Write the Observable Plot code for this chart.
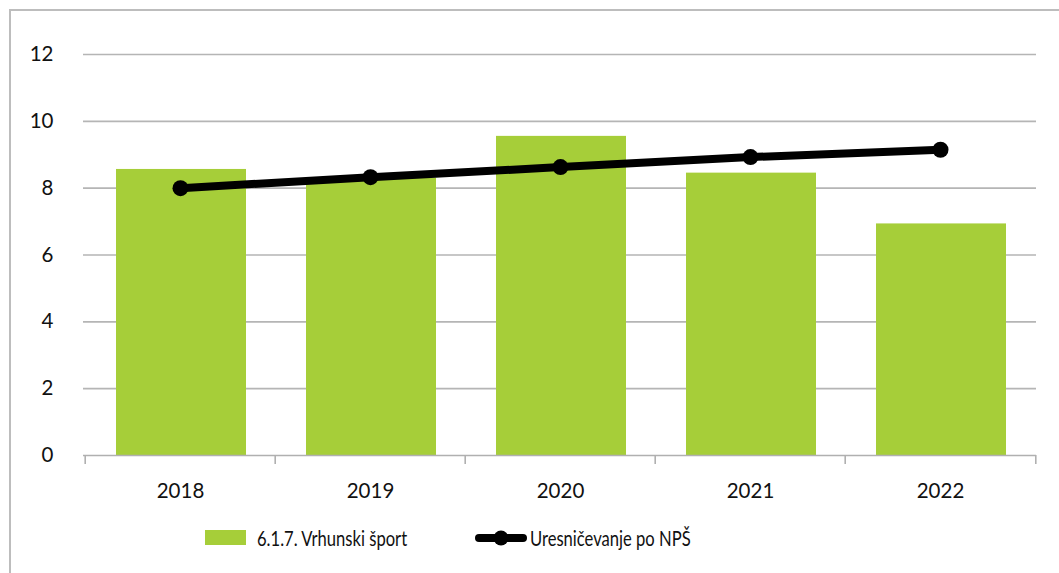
<!DOCTYPE html>
<html>
<head>
<meta charset="utf-8">
<script src="https://cdn.jsdelivr.net/npm/d3@7"></script>
<script src="https://cdn.jsdelivr.net/npm/@observablehq/plot@0.6"></script>
<style>
  html, body { margin: 0; padding: 0; background: #fff; }
  #wrap { position: relative; width: 1059px; height: 573px; overflow: hidden; font-family: Lato, "Open Sans", sans-serif; }
  #frame { position: absolute; left: 9px; top: 9px; width: 1100px; height: 600px; border-left: 2px solid #bdbdbd; border-top: 2px solid #bdbdbd; }
  #chart { position: absolute; left: 0; top: 0; }
  .leg { position: absolute; font-size: 21px; color: #111; line-height: 24px; white-space: nowrap; }
  .txt { transform: scaleX(0.79); transform-origin: 0 50%; }
</style>
</head>
<body>
<div id="wrap">
  <div id="frame"></div>
  <div id="chart"></div>
  <div class="leg" style="left:205px; top:530px; width:41px; height:15px; background:#a6ce39;"></div>
  <div class="leg txt" style="left:257px; top:526px;">6.1.7. Vrhunski šport</div>
  <svg class="leg" style="left:474px; top:526px;" width="54" height="24">
    <line x1="5" y1="12" x2="49" y2="12" stroke="#000" stroke-width="8" stroke-linecap="round"></line>
    <circle cx="27" cy="12" r="7.5" fill="#000"></circle>
  </svg>
  <div class="leg txt" style="left:530px; top:526px;">Uresničevanje po NPŠ</div>
</div>
<script>
const years = ["2018", "2019", "2020", "2021", "2022"];
const sportValues = [8.56, 8.3, 9.55, 8.45, 6.93];
const npsValues = [8.0, 8.33, 8.63, 8.93, 9.15];
const yTicks = [0, 2, 4, 6, 8, 10, 12];

const barData = years.map((y, i) => ({year: y, value: sportValues[i]}));
const lineData = years.map((y, i) => ({year: y, value: npsValues[i]}));

const W = 1059, H = 505;
const mL = 83, mR = 23, mT = 54, mB = 50;
const step = (W - mL - mR) / years.length;
const font = "20.5px";

const chart = Plot.plot({
  width: W,
  height: H,
  marginLeft: mL,
  marginRight: mR,
  marginTop: mT,
  marginBottom: mB,
  style: {fontFamily: "Lato, Open Sans, sans-serif", fontSize: font, color: "#111", background: "transparent", overflow: "visible"},
  x: {domain: years, type: "band", padding: 0, label: null},
  y: {domain: [0, 12], label: null},
  marks: [
    Plot.gridY(yTicks.filter(d => d > 0), {stroke: "#b5b5b5", strokeOpacity: 1, strokeWidth: 1.6}),
    Plot.axisY(yTicks, {tickSize: 0, tickPadding: 30, fontSize: font, fill: "#111", label: null}),
    Plot.axisX(years, {tickSize: 0, tickPadding: 28, fontSize: font, fill: "#111", label: null}),
    Plot.barY(barData, {x: "year", y: "value", fill: "#a6ce39", insetLeft: 31, insetRight: 29}),
    Plot.ruleY([0], {stroke: "#b0b0b0", strokeWidth: 1.6}),
    Plot.ruleX(years, {x: d => d, y1: 0, y2: 0, insetBottom: -9, dx: -step / 2, stroke: "#b0b0b0", strokeWidth: 1.6}),
    Plot.ruleX(years.slice(-1), {x: d => d, y1: 0, y2: 0, insetBottom: -9, dx: step / 2, stroke: "#b0b0b0", strokeWidth: 1.6}),
    Plot.line(lineData, {x: "year", y: "value", stroke: "#000", strokeWidth: 8}),
    Plot.dot(lineData, {x: "year", y: "value", r: 8, fill: "#000"})
  ]
});
document.getElementById("chart").appendChild(chart);
</script>
</body>
</html>
